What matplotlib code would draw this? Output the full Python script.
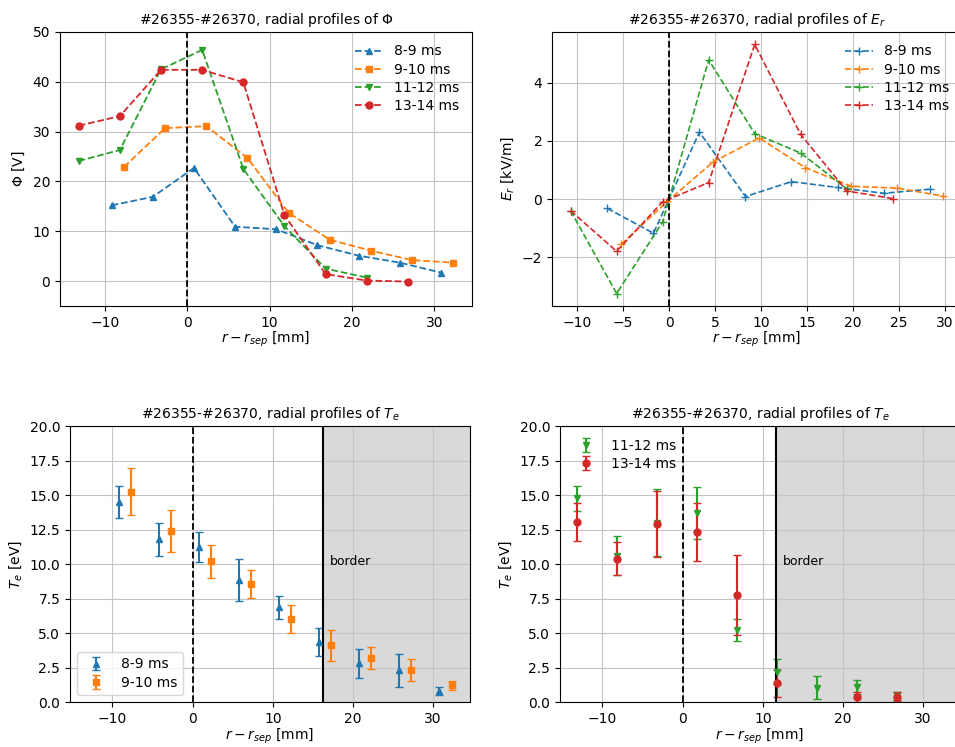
import matplotlib
matplotlib.use("Agg")
import matplotlib.pyplot as plt

# radial positions of the probe for each time window [mm]
r_89 = [-9.2, -4.2, 0.8, 5.8, 10.8, 15.8, 20.8, 25.8, 30.8]
r_910 = [-7.7, -2.7, 2.3, 7.3, 12.3, 17.3, 22.3, 27.3, 32.3]
r_1112 = [-13.2, -8.2, -3.2, 1.8, 6.8, 11.8, 16.8, 21.8]
r_1314 = [-13.2, -8.2, -3.2, 1.8, 6.8, 11.8, 16.8, 21.8, 26.8]

# plasma potential [V]
phi_89 = [15.2, 16.9, 22.7, 10.9, 10.4, 7.2, 5.1, 3.7, 1.7]
phi_910 = [22.9, 30.7, 31.1, 24.7, 13.7, 8.3, 6.1, 4.2, 3.7]
phi_1112 = [24.1, 26.3, 42.5, 46.4, 22.5, 11.0, 2.5, 0.7]
phi_1314 = [31.2, 33.1, 42.4, 42.4, 39.9, 13.2, 1.4, 0.1, -0.1]

# radial electric field between neighbouring points [kV/m]
rm_89 = [-6.7, -1.7, 3.3, 8.3, 13.3, 18.3, 23.3, 28.3]
er_89 = [-0.32, -1.17, 2.30, 0.09, 0.60, 0.40, 0.20, 0.34]
rm_910 = [-5.2, -0.2, 4.8, 9.8, 14.8, 19.8, 24.8, 29.8]
er_910 = [-1.55, -0.08, 1.28, 2.10, 1.08, 0.44, 0.38, 0.10]
rm_1112 = [-10.7, -5.7, -0.7, 4.3, 9.3, 14.3, 19.3]
er_1112 = [-0.40, -3.24, -0.78, 4.78, 2.25, 1.58, 0.36]
rm_1314 = [-10.7, -5.7, -0.7, 4.3, 9.3, 14.3, 19.3, 24.3]
er_1314 = [-0.40, -1.79, -0.09, 0.57, 5.31, 2.22, 0.28, 0.02]

# electron temperature [eV] with errors
te_89 = [14.5, 11.8, 11.25, 8.85, 6.85, 4.35, 2.8, 2.3, 0.8]
te_89_err = [1.15, 1.2, 1.1, 1.5, 0.8, 1.0, 1.05, 1.2, 0.3]
te_910 = [15.25, 12.4, 10.2, 8.55, 6.0, 4.1, 3.2, 2.35, 1.2]
te_910_err = [1.7, 1.5, 1.2, 1.0, 1.0, 1.15, 0.8, 0.8, 0.35]

r_te_1112 = [-13.2, -8.2, -3.2, 1.8, 6.8, 11.8, 16.8, 21.8, 26.8]
te_1112 = [14.75, 10.6, 13.0, 13.7, 5.2, 2.2, 1.05, 1.1, 0.45]
te_1112_err = [0.9, 1.4, 2.4, 1.9, 0.8, 0.9, 0.8, 0.5, 0.3]
r_te_1314 = [-13.2, -8.2, -3.2, 1.8, 6.8, 11.8, 21.8, 26.8]
te_1314 = [13.05, 10.4, 12.9, 12.3, 7.75, 1.35, 0.35, 0.4]
te_1314_err = [1.4, 1.2, 2.4, 2.1, 2.9, 1.0, 0.4, 0.3]

border_left = 16.3
border_right = 11.7

labels = ["8-9 ms", "9-10 ms", "11-12 ms", "13-14 ms"]
colors = ["tab:blue", "tab:orange", "tab:green", "tab:red"]
markers = ["^", "s", "v", "o"]
title_base = "#26355-#26370, radial profiles of "
xlab = r"$r - r_{sep}$ [mm]"

plt.rcParams["legend.labelspacing"] = 0.3
plt.rcParams["grid.color"] = "#c4c4c4"

fig, axes = plt.subplots(2, 2, figsize=(9.55, 7.47), dpi=100)
ax_phi, ax_er = axes[0]
ax_te1, ax_te2 = axes[1]

ax_phi.set_position([0.0628, 0.5904, 0.4314, 0.3668])
ax_er.set_position([0.578, 0.5904, 0.4293, 0.3668])
ax_te1.set_position([0.0733, 0.0602, 0.4188, 0.3695])
ax_te2.set_position([0.5864, 0.0602, 0.4188, 0.3695])

# potential
for r, v, c, m, lab in zip([r_89, r_910, r_1112, r_1314],
                           [phi_89, phi_910, phi_1112, phi_1314],
                           colors, markers, labels):
    ax_phi.plot(r, v, "--", color=c, marker=m, markersize=5,
                linewidth=1.3, label=lab)
ax_phi.axvline(0, color="black", linestyle="--", linewidth=1.3)
ax_phi.set_ylim(-5, 50)
ax_phi.set_title(title_base + r"$\Phi$", fontsize=10)
ax_phi.set_ylabel(r"$\Phi$ [V]")
ax_phi.set_xlabel(xlab, labelpad=0)
ax_phi.grid(True)
ax_phi.legend(loc="upper right", frameon=False)

# radial electric field
for r, v, c, lab in zip([rm_89, rm_910, rm_1112, rm_1314],
                        [er_89, er_910, er_1112, er_1314],
                        colors, labels):
    ax_er.plot(r, v, "--", color=c, marker="+", markersize=6,
               linewidth=1.2, label=lab)
ax_er.axvline(0, color="black", linestyle="--", linewidth=1.3)
ax_er.set_yticks([-2, 0, 2, 4])
ax_er.set_title(title_base + r"$E_r$", fontsize=10)
ax_er.set_ylabel(r"$E_r$ [kV/m]")
ax_er.set_xlabel(xlab, labelpad=0)
ax_er.grid(True)
ax_er.legend(loc="upper right", frameon=False)


def te_panel(ax, sets, border, legend_loc, frame):
    for r, v, e, c, m, lab in sets:
        ax.errorbar(r, v, yerr=e, fmt=m, color=c, markersize=5,
                    capsize=3, elinewidth=1.5, label=lab)
    ax.axvspan(border, 40, color="#d9d9d9", zorder=0)
    ax.axvline(border, color="black", linewidth=1.5)
    ax.axvline(0, color="black", linestyle="--", linewidth=1.3)
    ax.text(border + 0.8, 10.2, "border", fontsize=9, va="center")
    ax.set_xlim(-15.3, 34.6)
    ax.set_ylim(0, 20)
    ax.set_yticks([0, 2.5, 5, 7.5, 10, 12.5, 15, 17.5, 20])
    ax.set_title(title_base + r"$T_e$", fontsize=10)
    ax.set_ylabel(r"$T_e$ [eV]")
    ax.set_xlabel(xlab, labelpad=0.5)
    ax.grid(True)
    ax.legend(loc=legend_loc, frameon=frame)


te_panel(ax_te1,
         [(r_89, te_89, te_89_err, colors[0], markers[0], labels[0]),
          (r_910, te_910, te_910_err, colors[1], markers[1], labels[1])],
         border_left, "lower left", True)
te_panel(ax_te2,
         [(r_te_1112, te_1112, te_1112_err, colors[2], markers[2], labels[2]),
          (r_te_1314, te_1314, te_1314_err, colors[3], markers[3], labels[3])],
         border_right, "upper left", False)

fig.savefig("out.png", dpi=100)
